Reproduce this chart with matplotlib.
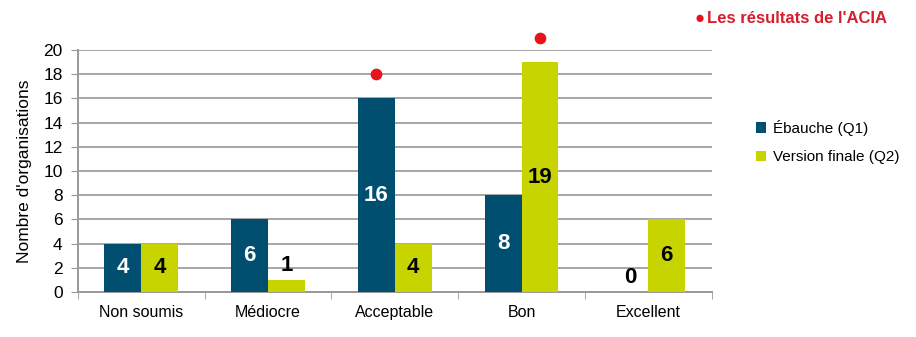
import numpy as np
import matplotlib
matplotlib.use("Agg")
import matplotlib.pyplot as plt

plt.rcParams['font.family'] = ['Liberation Sans', 'DejaVu Sans']

categories = ["Non soumis", "Médiocre", "Acceptable", "Bon", "Excellent"]
q1_values = [4, 6, 16, 8, 0]
q2_values = [4, 1, 4, 19, 6]
series_names = ["Ébauche (Q1)", "Version finale (Q2)"]
# ACIA results shown as red dots (category index, series, value)
acia_cat = [2, 3]
acia_series = [0, 1]
acia_values = [18, 21]

col_q1 = "#004f71"
col_q2 = "#c8d400"

fig = plt.figure(figsize=(9.16, 3.37), dpi=100)
ax = fig.add_axes([0.085, 0.1335, 0.692, 0.718])

x = np.arange(len(categories))
w = 0.29
b1 = ax.bar(x - w / 2, q1_values, w, color=col_q1, zorder=3, label=series_names[0])
b2 = ax.bar(x + w / 2, q2_values, w, color=col_q2, zorder=3, label=series_names[1])

for xi, v in zip(x - w / 2, q1_values):
    if v >= 2:
        ax.text(xi, v / 2, str(v), ha="center", va="center", color="white",
                fontsize=16, fontweight="bold", zorder=4)
    else:
        ax.text(xi, v + 1.2, str(v), ha="center", va="center", color="black",
                fontsize=16, fontweight="bold", zorder=4)
for xi, v in zip(x + w / 2, q2_values):
    if v >= 2:
        ax.text(xi, v / 2, str(v), ha="center", va="center", color="black",
                fontsize=16, fontweight="bold", zorder=4)
    else:
        ax.text(xi, v + 1.2, str(v), ha="center", va="center", color="black",
                fontsize=16, fontweight="bold", zorder=4)

offs = [-w / 2, w / 2]
ax.scatter([x[c] + offs[s] for c, s in zip(acia_cat, acia_series)], acia_values,
           s=55, color="#e8141b", zorder=5, clip_on=False)

ax.set_xlim(-0.5, 4.5)
ax.set_ylim(0, 20)
ax.set_yticks(range(0, 21, 2))
ax.tick_params(axis="y", labelsize=12.5, length=5, color="#999999", pad=6)
ax.set_xticks(x)
ax.set_xticklabels(categories, fontsize=11.5)
ax.tick_params(axis="x", length=0, pad=9)
ax.set_xticks(np.arange(-0.5, 5, 1), minor=True)
ax.tick_params(axis="x", which="minor", length=5, color="#999999")
ax.grid(axis="y", color="#a6a6a6", linewidth=1.4, zorder=0)
for s in ["top", "right"]:
    ax.spines[s].set_visible(False)
for s in ["left", "bottom"]:
    ax.spines[s].set_color("#999999")
    ax.spines[s].set_linewidth(1.4)
ax.set_ylabel("Nombre d'organisations", fontsize=12.5, labelpad=8)

leg = fig.legend(handles=[b1, b2], loc="upper left", bbox_to_anchor=(0.81, 0.685),
                 frameon=False, fontsize=11, handlelength=0.7, handleheight=0.7,
                 handletextpad=0.4, labelspacing=0.95)

fig.text(0.758, 0.945, "●", color="#e8141b", fontsize=12, va="center", ha="left")
fig.text(0.772, 0.945, "Les résultats de l'ACIA", color="#d41f2e", fontsize=12,
         fontweight="bold", va="center", ha="left")

fig.savefig("out.png", dpi=100)
